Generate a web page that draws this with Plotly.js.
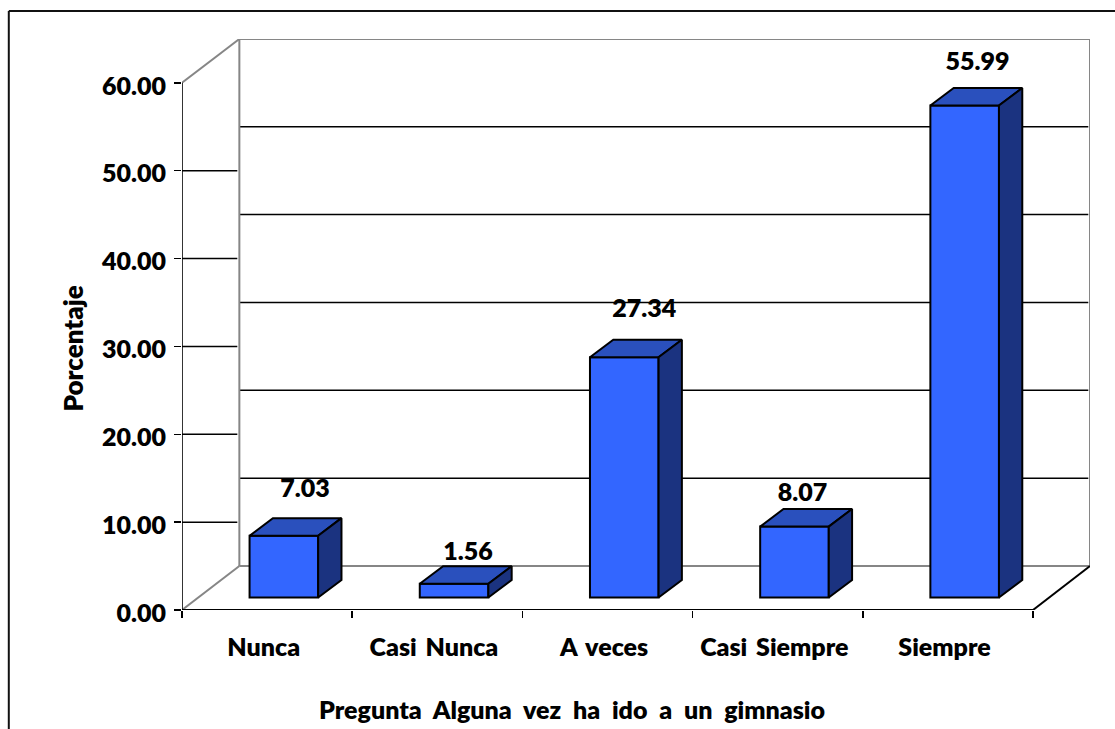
<!DOCTYPE html>
<html>
<head>
<meta charset="utf-8">
<script src="https://cdn.plot.ly/plotly-3.0.1.min.js"></script>
<style>
  html, body { margin: 0; padding: 0; background: #fff; overflow: hidden; }
  .xtick text { word-spacing: 3px; }
  .annotation-text { word-spacing: 6px; }
</style>
</head>
<body>
<div id="chart" style="width:1115px;height:729px"></div>
<script>
// Survey answers and their percentages
const categories = ['Nunca', 'Casi Nunca', 'A veces', 'Casi Siempre', 'Siempre'];
const values = [7.03, 1.56, 27.34, 8.07, 55.99];
const yTicks = [0, 10, 20, 30, 40, 50, 60];
const yTitle = 'Porcentaje';
const xTitle = 'Pregunta Alguna vez ha ido a un gimnasio';

// Pseudo-3D box geometry, in axis units
const wallDx = 0.337, wallDy = 5;      // depth of the chart floor
const barDx = 0.137, barDy = 2;        // depth of each column
const barWidth = 0.403, barShift = 0.0985, barBase = 1.42;
const labelDx = [0.124, 0.082, 0.118, 0.047, 0.076];
const labelLift = [5.07, 3.43, 5.3, 3.65, 4.8];

const wallColor = '#868686', ink = '#000000';
const font = 'Lato, "Open Sans", sans-serif';
const heavy = 800;
const size = { l: 181.7, r: 25.3, t: 38.5, b: 119, cat: 170.2, unit: 8.795 };
const plotW = 1115 - size.l - size.r;
const plotH = 729 - size.t - size.b;
const xMax = plotW / size.cat, yMax = plotH / size.unit;
const nCat = categories.length;

const left = values.map((_, i) => i + 0.5 + barShift - barWidth / 2);
const right = left.map(x => x + barWidth);
const tops = values.map(v => barBase + v);

function faces(build) {
  const xs = [], ys = [];
  values.forEach((_, i) => {
    build(i).forEach(p => { xs.push(p[0]); ys.push(p[1]); });
    xs.push(null); ys.push(null);
  });
  return { x: xs, y: ys };
}
const topFace = faces(i => [[left[i], tops[i]], [right[i], tops[i]],
  [right[i] + barDx, tops[i] + barDy], [left[i] + barDx, tops[i] + barDy], [left[i], tops[i]]]);
const sideFace = faces(i => [[right[i], barBase], [right[i] + barDx, barBase + barDy],
  [right[i] + barDx, tops[i] + barDy], [right[i], tops[i]], [right[i], barBase]]);

function polyTrace(f, color) {
  return { type: 'scatter', mode: 'lines', x: f.x, y: f.y, fill: 'toself', fillcolor: color,
    line: { color: ink, width: 2 }, hoverinfo: 'skip', showlegend: false };
}

const traces = [
  { type: 'bar', x: left.map(x => x + barWidth / 2), y: values, base: barBase, width: barWidth,
    marker: { color: '#3366ff', line: { color: ink, width: 2 } }, showlegend: false },
  polyTrace(topFace, '#2a50bd'),
  polyTrace(sideFace, '#1b3380'),
  { type: 'scatter', mode: 'text', showlegend: false, hoverinfo: 'skip',
    x: left.map((x, i) => x + barWidth / 2 + labelDx[i]),
    y: tops.map((t, i) => t + labelLift[i]),
    text: values.map(v => v.toFixed(2)),
    textposition: 'middle center',
    textfont: { family: font, size: 25, color: ink, weight: heavy } }
];

function seg(x0, y0, x1, y1, color, width) {
  return { type: 'line', xref: 'x', yref: 'y', layer: 'below', x0, y0, x1, y1,
    line: { color, width } };
}
const shapes = [];
// horizontal rules on the side wall and on the back wall
yTicks.slice(1, -1).forEach(v => {
  shapes.push(seg(0, v, wallDx - 0.012, v, ink, 1.5));
  shapes.push(seg(wallDx, v + wallDy, xMax - 0.01, v + wallDy, ink, 1.5));
});
// walls and floor edges
shapes.push(seg(wallDx, wallDy, wallDx, yMax, wallColor, 2));
shapes.push(seg(wallDx, yMax, xMax, yMax, wallColor, 2));
shapes.push(seg(xMax, wallDy, xMax, yMax, wallColor, 2));
shapes.push(seg(wallDx, wallDy, xMax, wallDy, wallColor, 2));
shapes.push(seg(0, 60, wallDx, yMax, wallColor, 2));
shapes.push(seg(0, 0, wallDx, wallDy, wallColor, 2));
shapes.push(seg(nCat, 0, xMax, wallDy, ink, 2));
shapes.push(seg(0, 0, 0, 60, ink, 1.6));
shapes.push(seg(0, 0, nCat, 0, ink, 2));
// outer frame, running off the page to the right and bottom
const px = x => (x - size.l) / plotW;
const py = y => 1 - (y - size.t) / plotH;
[[8.5, 10.5, 1125, 10.5], [8.5, 10.5, 8.5, 740]].forEach(s => shapes.push({
  type: 'line', xref: 'paper', yref: 'paper', x0: px(s[0]), y0: py(s[1]), x1: px(s[2]), y1: py(s[3]),
  line: { color: '#111', width: 2 } }));

const layout = {
  width: 1115, height: 729,
  margin: { l: size.l, r: size.r, t: size.t, b: size.b, pad: 0 },
  paper_bgcolor: '#fff', plot_bgcolor: 'rgba(0,0,0,0)',
  showlegend: false, shapes,
  xaxis: {
    range: [0, xMax], showgrid: false, zeroline: false, showline: false,
    tickmode: 'array', tickvals: categories.map((_, i) => i + 0.48), ticktext: categories,
    ticks: '', ticklabelstandoff: 20,
    tickfont: { family: font, size: 25, color: ink, weight: heavy },
    minor: { ticks: 'outside', ticklen: 7, tickwidth: 1.5, tickcolor: ink, showgrid: false,
      tickmode: 'array', tickvals: categories.map((_, i) => i).concat([nCat]) }
  },
  yaxis: {
    range: [0, yMax], showgrid: false, zeroline: false, showline: false,
    tickmode: 'array', tickvals: yTicks, tickformat: '.2f',
    ticks: 'outside', ticklen: 7, tickwidth: 1.5, tickcolor: ink, ticklabelstandoff: 3, ticklabelshift: 3,
    tickfont: { family: font, size: 25, color: ink, weight: heavy }
  },
  annotations: [
    { xref: 'paper', yref: 'paper', x: px(572), y: py(709), text: xTitle, showarrow: false,
      xanchor: 'center', yanchor: 'middle', font: { family: font, size: 25, color: ink, weight: heavy } },
    { xref: 'paper', yref: 'paper', x: px(73), y: py(348), text: yTitle, showarrow: false, textangle: -90,
      xanchor: 'center', yanchor: 'middle', font: { family: font, size: 26, color: ink, weight: heavy } }
  ]
};

Plotly.newPlot('chart', traces, layout, { displayModeBar: false, staticPlot: true });
</script>
</body>
</html>
